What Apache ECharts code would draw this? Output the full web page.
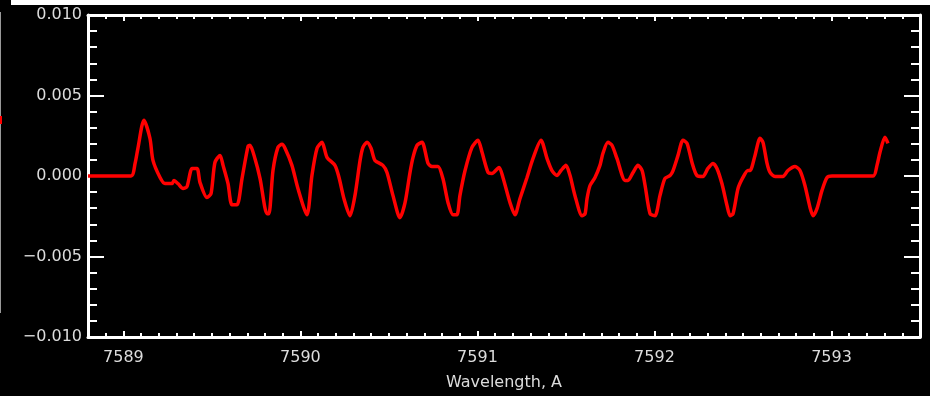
<!DOCTYPE html>
<html>
<head>
<meta charset="utf-8">
<title>Wavelength</title>
<script src="https://cdn.jsdelivr.net/npm/echarts@6/dist/echarts.min.js"></script>
<style>
  html, body { margin: 0; padding: 0; background: #000; }
  #chart-container { width: 930px; height: 396px; }
</style>
</head>
<body>
<div id="chart-container"></div>
<script>
'use strict';

// wavelength (A) and signal
const wavelength = [
    7588.800, 7589.043, 7589.066, 7589.082, 7589.116, 7589.150, 7589.167, 7589.207,
    7589.235, 7589.275, 7589.286, 7589.308, 7589.337, 7589.359, 7589.388, 7589.416,
    7589.433, 7589.472, 7589.495, 7589.517, 7589.546, 7589.563, 7589.591, 7589.613,
    7589.642, 7589.670, 7589.704, 7589.715, 7589.743, 7589.772, 7589.811, 7589.822,
    7589.845, 7589.873, 7589.896, 7589.913, 7589.952, 7589.986, 7590.037, 7590.065,
    7590.094, 7590.122, 7590.150, 7590.195, 7590.218, 7590.246, 7590.280, 7590.308,
    7590.337, 7590.353, 7590.376, 7590.399, 7590.421, 7590.466, 7590.489, 7590.523,
    7590.562, 7590.591, 7590.619, 7590.636, 7590.659, 7590.687, 7590.721, 7590.743,
    7590.777, 7590.805, 7590.834, 7590.862, 7590.884, 7590.901, 7590.930, 7590.969,
    7591.003, 7591.026, 7591.060, 7591.082, 7591.122, 7591.144, 7591.184, 7591.212,
    7591.240, 7591.280, 7591.314, 7591.359, 7591.393, 7591.421, 7591.449, 7591.472,
    7591.500, 7591.523, 7591.551, 7591.591, 7591.608, 7591.619, 7591.636, 7591.664,
    7591.692, 7591.709, 7591.737, 7591.760, 7591.788, 7591.834, 7591.850, 7591.879,
    7591.907, 7591.930, 7591.947, 7591.975, 7592.003, 7592.031, 7592.059, 7592.088,
    7592.105, 7592.133, 7592.161, 7592.184, 7592.212, 7592.240, 7592.274, 7592.302,
    7592.331, 7592.353, 7592.381, 7592.410, 7592.427, 7592.444, 7592.472, 7592.500,
    7592.528, 7592.540, 7592.568, 7592.596, 7592.613, 7592.636, 7592.653, 7592.681,
    7592.726, 7592.754, 7592.794, 7592.822, 7592.850, 7592.879, 7592.896, 7592.918,
    7592.946, 7592.975, 7593.003, 7593.235, 7593.257, 7593.274, 7593.302, 7593.319
];
const signal = [
    0, 0, 0.00078, 0.00172, 0.00347, 0.00234, 0.00097, -0.00009,
    -0.00047, -0.00047, -0.00028, -0.00047, -0.00078, -0.00066, 0.00047, 0.00047,
    -0.00041, -0.00134, -0.00109, 0.00084, 0.00128, 0.00066, -0.00047, -0.00178,
    -0.00178, -0.00016, 0.00184, 0.00191, 0.00109, -0.00016, -0.00234, -0.00234,
    0.00034, 0.00178, 0.00197, 0.00172, 0.00066, -0.00078, -0.00241, 0.00003,
    0.00172, 0.00209, 0.00116, 0.00066, -0.00009, -0.00141, -0.00247, -0.00122,
    0.00097, 0.00178, 0.00209, 0.00172, 0.00097, 0.00066, 0.00022, -0.00122,
    -0.00259, -0.00166, 0.00022, 0.00116, 0.00191, 0.00209, 0.00078, 0.00059,
    0.00059, -0.00016, -0.00166, -0.00241, -0.00241, -0.00122, 0.00034, 0.00178,
    0.00222, 0.00147, 0.00022, 0.00016, 0.00053, -0.00009, -0.00166, -0.00241,
    -0.00141, -0.00009, 0.00109, 0.00222, 0.00109, 0.00034, 0.00003, 0.00034,
    0.00066, 0.00003, -0.00122, -0.00247, -0.00234, -0.00141, -0.00059, -0.00009,
    0.00066, 0.00141, 0.00209, 0.00191, 0.00109, -0.00028, -0.00028, 0.00022,
    0.00066, 0.00034, -0.00059, -0.00234, -0.00247, -0.00122, -0.00016, 0.00003,
    0.00034, 0.00128, 0.00222, 0.00203, 0.00084, 0.00003, -0.00003, 0.00047,
    0.00078, 0.00047, -0.00047, -0.00184, -0.00247, -0.00234, -0.00078, -0.00009,
    0.00034, 0.00034, 0.00128, 0.00234, 0.00209, 0.00078, 0.00022, -0.00003,
    -0.00003, 0.00034, 0.00059, 0.00034, -0.00059, -0.00197, -0.00247, -0.00203,
    -0.00091, -0.00009, 0, 0, 0.00066, 0.00147, 0.00241, 0.00203
];

// tick positions on the wavelength axis
const majorTicks = [7589, 7590, 7591, 7592, 7593];
const minorTicks = [
    7588.9, 7589.1, 7589.2, 7589.3, 7589.4, 7589.5, 7589.6, 7589.7, 7589.8, 7589.9,
    7590.1, 7590.2, 7590.3, 7590.4, 7590.5, 7590.6, 7590.7, 7590.8, 7590.9,
    7591.1, 7591.2, 7591.3, 7591.4, 7591.5, 7591.6, 7591.7, 7591.8, 7591.9,
    7592.1, 7592.2, 7592.3, 7592.4, 7592.5, 7592.6, 7592.7, 7592.8, 7592.9,
    7593.1, 7593.2, 7593.3, 7593.4
];

const X_MIN = 7588.8;
const X_MAX = 7593.5;
const FG = '#ffffff';
const TXT = '#dcdcdc';
const FONT = 'DejaVu Sans';

const myChart = echarts.init(
    document.getElementById('chart-container'),
    null,
    { renderer: 'canvas' }
);

function xAxisDef(position, ticks, len, showLine, showLabel) {
    return {
        type: 'value',
        position: position,
        min: X_MIN,
        max: X_MAX,
        axisLine: { show: showLine, onZero: false, lineStyle: { color: FG, width: 3 } },
        axisTick: {
            show: true,
            inside: true,
            length: len,
            customValues: ticks,
            lineStyle: { color: FG, width: 2 }
        },
        axisLabel: {
            show: showLabel,
            customValues: ticks,
            margin: 13,
            color: TXT,
            fontFamily: FONT,
            fontSize: 16,
            formatter: (v) => String(Math.round(v))
        },
        splitLine: { show: false },
        name: showLabel ? 'Wavelength, A' : '',
        nameLocation: 'middle',
        nameGap: 38,
        nameTextStyle: { color: TXT, fontFamily: FONT, fontSize: 16 }
    };
}

function yAxisDef(position, showLabel) {
    return {
        type: 'value',
        position: position,
        min: -0.01,
        max: 0.01,
        interval: 0.005,
        axisLine: { show: true, onZero: false, lineStyle: { color: FG, width: 3 } },
        axisTick: { show: true, inside: true, length: 16, lineStyle: { color: FG, width: 2 } },
        minorTick: { show: true, splitNumber: 5, length: 9, lineStyle: { color: FG, width: 2 } },
        axisLabel: {
            show: showLabel,
            margin: 6,
            color: TXT,
            fontFamily: FONT,
            fontSize: 16,
            formatter: (v) => (v < 0 ? '\u2212' : '') + Math.abs(v).toFixed(3)
        },
        splitLine: { show: false }
    };
}

const option = {
    backgroundColor: '#000',
    animation: false,
    grid: { left: 88, right: 10, top: 15, bottom: 59 },
    xAxis: [
        xAxisDef('bottom', majorTicks, 6, true, true),
        xAxisDef('bottom', minorTicks, 4, false, false),
        xAxisDef('top', majorTicks, 6, true, false),
        xAxisDef('top', minorTicks, 4, false, false)
    ],
    yAxis: [
        yAxisDef('left', true),
        yAxisDef('right', false)
    ],
    graphic: [
        { type: 'rect', shape: { x: 11, y: 0, width: 919, height: 5 }, style: { fill: '#fff' } },
        { type: 'rect', shape: { x: 0, y: 12, width: 1, height: 301 }, style: { fill: '#999' } },
        { type: 'rect', shape: { x: 0, y: 116, width: 2, height: 8 }, style: { fill: '#f00' } }
    ],
    series: [{
        type: 'line',
        xAxisIndex: 0,
        yAxisIndex: 0,
        data: wavelength.map((w, i) => [w, signal[i]]),
        showSymbol: false,
        smooth: 0.25,
        lineStyle: { color: '#ff0000', width: 3.5 }
    }]
};

myChart.setOption(option);
window.addEventListener('resize', myChart.resize);
</script>
</body>
</html>
